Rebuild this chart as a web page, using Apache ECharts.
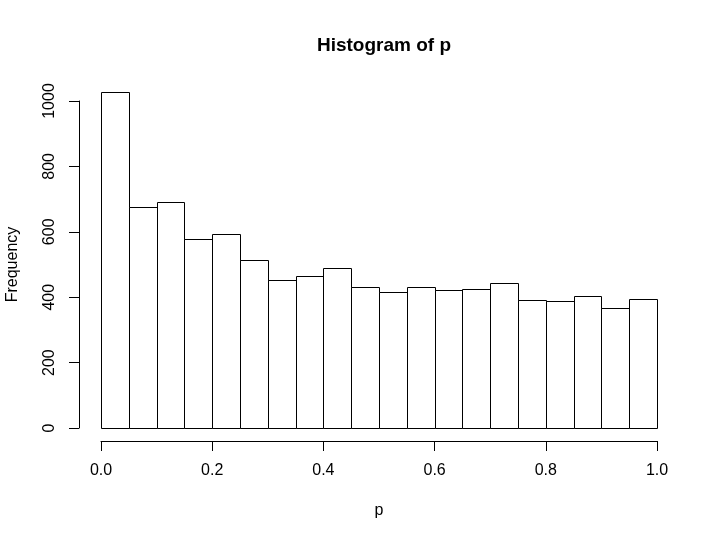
<!DOCTYPE html>
<html>
<head>
<meta charset="utf-8">
<script src="https://cdn.jsdelivr.net/npm/echarts@6/dist/echarts.min.js"></script>
<style>
html, body { margin: 0; padding: 0; background: #fff; }
#chart { width: 720px; height: 540px; }
</style>
</head>
<body>
<div id="chart"></div>
<script>
// bin edges of the histogram (width 0.05)
var binStart = [0.00, 0.05, 0.10, 0.15, 0.20, 0.25, 0.30, 0.35, 0.40, 0.45,
                0.50, 0.55, 0.60, 0.65, 0.70, 0.75, 0.80, 0.85, 0.90, 0.95];
var binEnd = [0.05, 0.10, 0.15, 0.20, 0.25, 0.30, 0.35, 0.40, 0.45, 0.50,
              0.55, 0.60, 0.65, 0.70, 0.75, 0.80, 0.85, 0.90, 0.95, 1.00];
// counts per bin
var counts = [1027, 675, 690, 579, 593, 513, 452, 464, 489, 430,
              415, 432, 421, 426, 444, 391, 387, 403, 368, 394];
var xTicks = [0, 0.2, 0.4, 0.6, 0.8, 1.0];
var yTicks = [0, 200, 400, 600, 800, 1000];

var font = 'Liberation Sans, Arial, Helvetica, sans-serif';

var data = [];
for (var i = 0; i < counts.length; i++) {
	data.push([binStart[i], binEnd[i], counts[i]]);
}

var xMin = xTicks[0], xMax = xTicks[xTicks.length - 1];
var yMin = yTicks[0], yMax = yTicks[yTicks.length - 1];

var myChart = echarts.init(document.getElementById('chart'));

// hidden axis helper
var hiddenAxis = function(idx, min, max) {
	return {
		type : 'value',
		gridIndex : idx,
		min : min,
		max : max,
		show : false
	};
};

var option = {
	backgroundColor : '#ffffff',
	animation : false,
	title : {
		text : 'Histogram of p',
		left : 379,
		top : 31,
		textAlign : 'center',
		textStyle : {
			fontFamily : font,
			fontSize : 19,
			fontWeight : 'bold',
			color : '#000'
		}
	},
	grid : [
		// bars
		{ left : 101, right : 63, top : 101, bottom : 112, outerBoundsMode : 'none' },
		// x axis (drawn below the plot region)
		{ left : 101, right : 63, top : 101, bottom : 99, outerBoundsMode : 'none' },
		// y axis (drawn left of the plot region)
		{ left : 79, right : 63, top : 101, bottom : 112, outerBoundsMode : 'none' }
	],
	xAxis : [
		hiddenAxis(0, xMin, xMax),
		{
			type : 'value',
			gridIndex : 1,
			min : xMin,
			max : xMax,
			interval : 0.2,
			name : 'p',
			nameLocation : 'middle',
			nameGap : 62,
			nameTextStyle : { fontFamily : font, fontSize : 16, color : '#000' },
			axisLine : { show : true, lineStyle : { color : '#000', width : 1 } },
			axisTick : { show : true, length : 10, lineStyle : { color : '#000' } },
			axisLabel : {
				margin : 22,
				fontFamily : font,
				fontSize : 16,
				color : '#000',
				formatter : function(v) { return v.toFixed(1); }
			},
			splitLine : { show : false }
		},
		hiddenAxis(2, xMin, xMax)
	],
	yAxis : [
		hiddenAxis(0, yMin, yMax),
		hiddenAxis(1, yMin, yMax),
		{
			type : 'value',
			gridIndex : 2,
			min : yMin,
			max : yMax,
			interval : 200,
			name : 'Frequency',
			nameLocation : 'middle',
			nameGap : 58,
			nameTextStyle : { fontFamily : font, fontSize : 16, color : '#000' },
			axisLine : { show : true, lineStyle : { color : '#000', width : 1 } },
			axisTick : { show : true, length : 10, lineStyle : { color : '#000' } },
			axisLabel : {
				margin : 21,
				rotate : 90,
				fontFamily : font,
				fontSize : 16,
				color : '#000',
				formatter : function(v) { return String(v); }
			},
			splitLine : { show : false }
		}
	],
	series : [ {
		type : 'custom',
		xAxisIndex : 0,
		yAxisIndex : 0,
		clip : false,
		renderItem : function(params, api) {
			var p0 = api.coord([api.value(0), api.value(2)]);
			var p1 = api.coord([api.value(1), 0]);
			return {
				type : 'rect',
				shape : {
					x : Math.round(p0[0]) + 0.5,
					y : Math.round(p0[1]) + 0.5,
					width : Math.round(p1[0]) - Math.round(p0[0]),
					height : Math.round(p1[1]) - Math.round(p0[1])
				},
				style : { fill : '#fff', stroke : '#000', lineWidth : 1 }
			};
		},
		encode : { x : [0, 1], y : 2 },
		data : data
	} ]
};
myChart.setOption(option);
</script>
</body>
</html>
